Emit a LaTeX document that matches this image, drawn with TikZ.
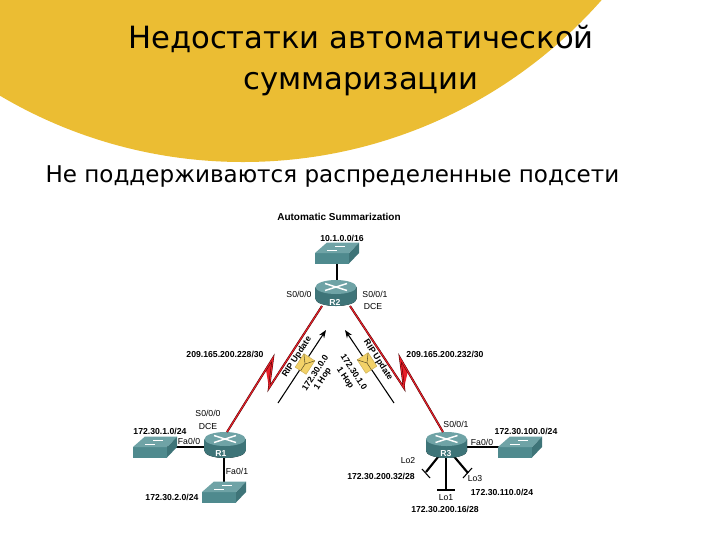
\documentclass[tikz,border=0pt]{standalone}
\usepackage{fontspec}
\setmainfont{DejaVu Sans}
\newfontfamily\labelfont{Liberation Sans}
\usetikzlibrary{arrows.meta}

\definecolor{sunyellow}{HTML}{EBBD33}
\definecolor{tealtop}{HTML}{6FA3A6}
\definecolor{tealface}{HTML}{4F8A8E}
\definecolor{tealdark}{HTML}{3E7478}
\definecolor{mailyellow}{HTML}{F3D268}
\definecolor{serialred}{HTML}{E8202A}

\tikzset{every picture/.style={line width=0.75pt}}
\tikzset{
	flipicon/.style={yscale=-1},
	titletext/.style={inner sep=0pt,anchor=base,font=\fontsize{23}{23}\selectfont},
	subtext/.style={inner sep=0pt,anchor=base west,font=\fontsize{17.3}{18}\selectfont},
	netlabel/.style={inner sep=0pt,font=\labelfont\fontsize{6.5}{6.5}\selectfont},
	boldlabel/.style={netlabel,font=\labelfont\bfseries\fontsize{6.5}{6.5}\selectfont},
	headlabel/.style={netlabel,font=\labelfont\bfseries\fontsize{7.5}{7.5}\selectfont},
	routername/.style={boldlabel,text=white},
	ethernet/.style={line width=1.6pt,black},
	thinlink/.style={line width=0.8pt,black},
	serial/.style={line width=0.35pt,draw=black!70!red,double=serialred,double distance=0.8pt,line join=miter},
	updatearrow/.style={line width=0.8pt,-{Stealth[length=6pt,width=4.5pt]}},
	switchicon/.pic={
		\fill [tealface] (0,0) rectangle (34,10.5);
		\fill [tealdark] (34,0) -- (44,-10.5) -- (44,0) -- (34,10.5) -- cycle;
		\fill [tealtop] (0,0) -- (12,-10.5) -- (44,-10.5) -- (34,0) -- cycle;
		\draw [white,line width=0.4pt] (12,-3) -- (22,-3) (20,-7) -- (30,-7);
	},
	routericon/.pic={
		\fill [left color=tealdark,middle color=tealface!80,right color=tealdark] (-20.5,0) -- (-20.5,12) arc [start angle=180,end angle=0,x radius=20.5,y radius=7] -- (20.5,0) -- cycle;
		\fill [tealtop] (0,0) ellipse [x radius=20.5,y radius=7];
		\draw [white,line width=1.1pt] (-11,-3.5) -- (11,3.5) (-11,3.5) -- (11,-3.5);
	},
	mailicon/.pic={
		\fill [mailyellow,draw=mailyellow!85!black,line width=0.4pt] (-6.5,-8) rectangle (6.5,8);
		\draw [black!60!mailyellow,line width=0.4pt] (-6.5,-8) -- (0,0) -- (6.5,-8) (0,0) -- (0,8);
	},
}

\begin{document}
\begin{tikzpicture}[x=0.75pt,y=0.75pt,yscale=-1,xscale=1]
	\useasboundingbox (0,0) rectangle (720,540);
	
	%Background shape
	\begin{scope}
		\clip (0,0) rectangle (720,540);
		\fill [sunyellow] (243,-316) circle [radius=478];
	\end{scope}
	
	% Text Node
	\node (titleA) [titletext] at (361,48) {Недостатки автоматической};
	\node (titleB) [titletext] at (361,89) {суммаризации};
	\node (subtitle) [subtext] at (45,182) {Не поддерживаются распределенные подсети};
	\node (heading) [headlabel] at (339,217) {Automatic Summarization};
	
	%Device positions
	\coordinate (swR2) at (337,258);
	\coordinate (swA) at (150,447);
	\coordinate (swB) at (224,492);
	\coordinate (swC) at (515,447);
	\coordinate (R2) at (337,294);
	\coordinate (R1) at (224,447);
	\coordinate (R3) at (446,447);
	\coordinate (R2west) at (322,306);
	\coordinate (R2east) at (350,306);
	\coordinate (R1port) at (227,432);
	\coordinate (R3port) at (443,432);
	\coordinate (zigLa) at (269,388);
	\coordinate (zigLb) at (273,358);
	\coordinate (zigLc) at (250,395);
	\coordinate (zigRa) at (404,388);
	\coordinate (zigRb) at (400,358);
	\coordinate (loA) at (426,472);
	\coordinate (loAa) at (422,469);
	\coordinate (loAb) at (430,478);
	\coordinate (loB) at (446,490);
	\coordinate (loBa) at (437,490);
	\coordinate (loBb) at (455,490);
	\coordinate (loC) at (468,473);
	\coordinate (loCa) at (463,478);
	\coordinate (loCb) at (472,468);
	
	%Ethernet links
	\draw [thinlink] (swR2) -- (R2);
	\draw [ethernet] (swA) -- (R1);
	\draw [ethernet] (R1) -- (swB);
	\draw [thinlink] (R3) -- (swC);
	\draw [ethernet] (R3) -- (loA);
	\draw [ethernet] (R3) -- (loB);
	\draw [ethernet] (R3) -- (loC);
	\draw [thinlink] (loAa) -- (loAb);
	\draw [ethernet] (loBa) -- (loBb);
	\draw [thinlink] (loCa) -- (loCb);
	
	%Devices
	\pic [flipicon] at (315,253) {switchicon};
	\pic [flipicon] at (133,447) {switchicon};
	\pic [flipicon] at (202,492) {switchicon};
	\pic [flipicon] at (498,447) {switchicon};
	\pic [flipicon] at (336,287) {routericon};
	\pic [flipicon] at (225,439) {routericon};
	\pic [flipicon] at (446.5,439) {routericon};
	
	%Serial links
	\fill [serialred] (zigLa) -- (zigLb) -- (266,370) -- cycle;
	\fill [serialred] (zigRa) -- (zigRb) -- (408,371) -- cycle;
	\draw [serial] (R2west) -- (zigLa) -- (zigLb) -- (zigLc) -- (R1port);
	\draw [serial] (R2east) -- (zigRa) -- (zigRb) -- (R3port);
	
	%Update arrows
	\coordinate (arrLa) at (278,403);
	\coordinate (arrLb) at (326,330);
	\coordinate (arrRa) at (394,403);
	\coordinate (arrRb) at (345,330);
	\draw [updatearrow] (arrLa) -- (arrLb);
	\draw [updatearrow] (arrRa) -- (arrRb);
	\pic [flipicon,rotate=33] at (305,364) {mailicon};
	\pic [flipicon,rotate=-33] at (367,363) {mailicon};
	
	% Text Node
	\node (swR2label) [boldlabel] at (342,238) {10.1.0.0/16};
	\node (R2name) [routername] at (335,302) {R2};
	\node (R1name) [routername] at (221,454) {R1};
	\node (R3name) [routername] at (446,454) {R3};
	\node (R2s0) [netlabel] at (299,294) {S0/0/0};
	\node (R2s1) [netlabel] at (375,294) {S0/0/1};
	\node (R2dce) [netlabel] at (373,307) {DCE};
	\node (netL) [boldlabel] at (225,354) {209.165.200.228/30};
	\node (netR) [boldlabel] at (445,354) {209.165.200.232/30};
	\node (R1s0) [netlabel] at (208,413) {S0/0/0};
	\node (R1dce) [netlabel] at (208,427) {DCE};
	\node (swAlabel) [boldlabel] at (160,431) {172.30.1.0/24};
	\node (R1fa0) [netlabel] at (189,441) {Fa0/0};
	\node (R1fa1) [netlabel] at (237,471) {Fa0/1};
	\node (swBlabel) [boldlabel] at (172,497) {172.30.2.0/24};
	\node (R3s1) [netlabel] at (456,424) {S0/0/1};
	\node (swClabel) [boldlabel] at (526,431) {172.30.100.0/24};
	\node (R3fa0) [netlabel] at (482,442) {Fa0/0};
	\node (lo2name) [netlabel] at (408,461) {Lo2};
	\node (lo2net) [boldlabel] at (381,476) {172.30.200.32/28};
	\node (lo3name) [netlabel] at (475,479) {Lo3};
	\node (lo3net) [boldlabel] at (502,492) {172.30.110.0/24};
	\node (lo1name) [netlabel] at (446,498) {Lo1};
	\node (lo1net) [boldlabel] at (445,509) {172.30.200.16/28};
	
	% Rotated Text Node
	\node (ripL) [boldlabel,rotate=57] at (297,357) {RIP Update};
	\node (netLa) [boldlabel,rotate=57] at (315,373) {172.30.0.0};
	\node (hopL) [boldlabel,rotate=57] at (323,379) {1 Hop};
	\node (ripR) [boldlabel,rotate=-57] at (378,360) {RIP Update};
	\node (netRa) [boldlabel,rotate=-57] at (354,372) {172.30.1.0};
	\node (hopR) [boldlabel,rotate=-57] at (345,378) {1 Hop};
	
\end{tikzpicture}
\end{document}
